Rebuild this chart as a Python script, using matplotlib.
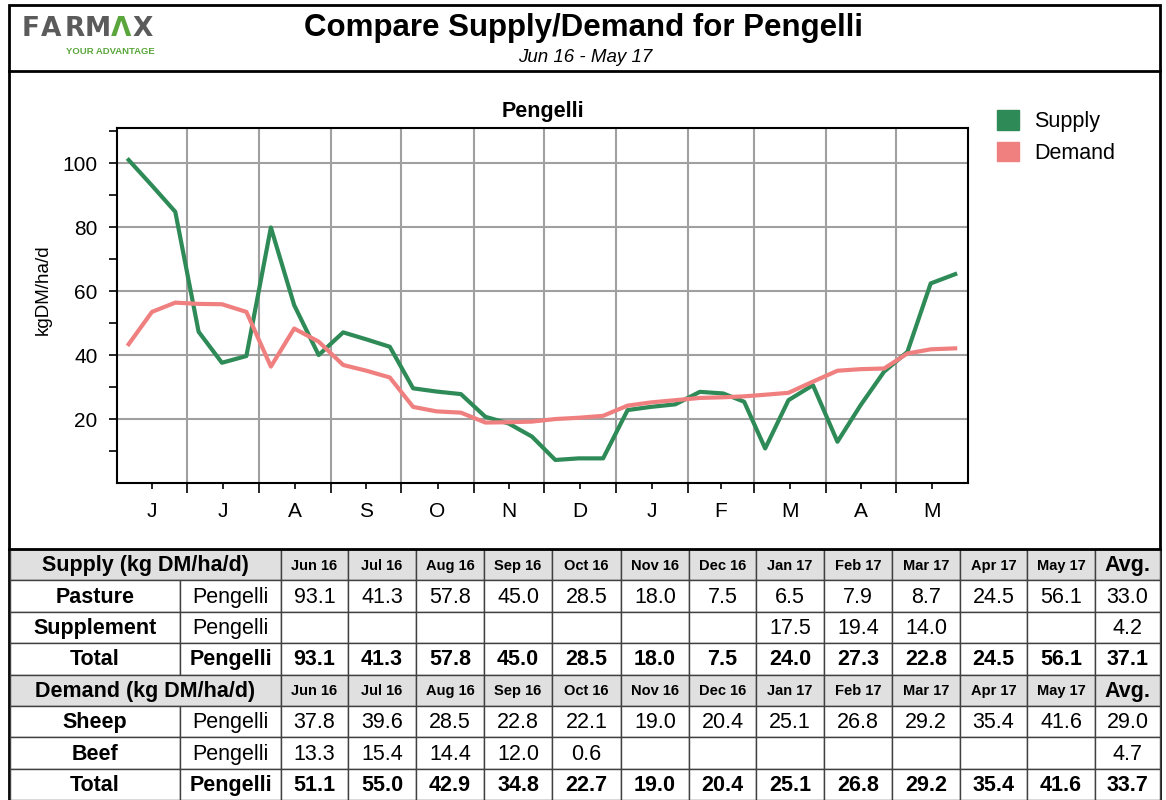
import numpy as np
import matplotlib
matplotlib.use('Agg')
import matplotlib.pyplot as plt
from matplotlib.patches import Rectangle, Patch
from matplotlib.ticker import FixedLocator, NullFormatter

plt.rcParams['font.family'] = ['Liberation Sans', 'DejaVu Sans']

farm = 'Pengelli'
months = ['Jun 16', 'Jul 16', 'Aug 16', 'Sep 16', 'Oct 16', 'Nov 16',
          'Dec 16', 'Jan 17', 'Feb 17', 'Mar 17', 'Apr 17', 'May 17']
month_letters = ['J', 'J', 'A', 'S', 'O', 'N', 'D', 'J', 'F', 'M', 'A', 'M']
month_days = [30, 31, 31, 30, 31, 30, 31, 31, 28, 31, 30, 31]

# ten-day period values (3 per month)
supply = [101.0, 93.0, 84.8, 47.3, 37.6, 39.7, 79.9, 55.6, 40.0, 47.1, 44.9, 42.6,
          29.6, 28.6, 27.8, 20.7, 18.6, 14.5, 7.2, 7.7, 7.7, 22.8, 23.8, 24.6,
          28.5, 28.0, 25.4, 10.8, 25.9, 30.6, 12.9, 24.4, 34.8, 41.0, 62.4, 65.3]
demand = [43.4, 53.5, 56.4, 56.0, 55.9, 53.5, 36.4, 48.3, 44.2, 36.9, 35.1, 33.0,
          23.8, 22.4, 22.0, 18.9, 19.0, 19.2, 20.0, 20.4, 21.0, 24.2, 25.2, 25.9,
          26.6, 26.8, 27.1, 27.6, 28.2, 31.7, 35.1, 35.6, 35.8, 40.5, 41.8, 42.1]

# monthly table values
pasture = [93.1, 41.3, 57.8, 45.0, 28.5, 18.0, 7.5, 6.5, 7.9, 8.7, 24.5, 56.1]
supplement = [None, None, None, None, None, None, None, 17.5, 19.4, 14.0, None, None]
supply_total = [93.1, 41.3, 57.8, 45.0, 28.5, 18.0, 7.5, 24.0, 27.3, 22.8, 24.5, 56.1]
sheep = [37.8, 39.6, 28.5, 22.8, 22.1, 19.0, 20.4, 25.1, 26.8, 29.2, 35.4, 41.6]
beef = [13.3, 15.4, 14.4, 12.0, 0.6, None, None, None, None, None, None, None]
demand_total = [51.1, 55.0, 42.9, 34.8, 22.7, 19.0, 20.4, 25.1, 26.8, 29.2, 35.4, 41.6]
supply_avg = [33.0, 4.2, 37.1]
demand_avg = [29.0, 4.7, 33.7]

green = '#2e8b57'
pink = '#f08080'
W, H = 1166, 800

# x positions: day of season, middle of each ten-day period
month_start = np.concatenate([[0], np.cumsum(month_days)[:-1]])
period_x = []
for s, n in zip(month_start, month_days):
    period_x += [s + 5, s + 15, s + (20 + n) / 2]

fig = plt.figure(figsize=(W / 100, H / 100), dpi=100)

# pixel-space background axes for frame, header and table
bg = fig.add_axes([0, 0, 1, 1])
bg.set_xlim(0, W)
bg.set_ylim(H, 0)
bg.axis('off')

bg.add_patch(Rectangle((9, 5), 1151, 794, fill=False, lw=2, ec='black'))
bg.plot([9, 1160], [71, 71], color='black', lw=2)

# logo
for ch, cx, col in zip(['F', 'A', 'R', 'M', '\u039b', 'X'],
                       [31, 51, 75, 98, 121, 143],
                       ['#5b5b5b'] * 4 + ['#5aa63c', '#5b5b5b']):
    bg.text(cx, 29, ch, fontsize=19, fontweight='bold', color=col,
            family='DejaVu Sans', ha='center', va='center')
bg.text(110, 52, 'YOUR ADVANTAGE', fontsize=6.8, fontweight='bold',
        color='#5aa63c', ha='center', va='center')

bg.text(584, 28, 'Compare Supply/Demand for ' + farm, fontsize=22.5,
        fontweight='bold', ha='center', va='center')
bg.text(585, 57, 'Jun 16 - May 17', fontsize=13.5, style='italic',
        ha='center', va='center')

# chart
ax = fig.add_axes([117 / W, 1 - 483 / H, 851 / W, 355 / H])
ax.plot(period_x, supply, color=green, lw=3, label='Supply', zorder=3)
ax.plot(period_x, demand, color=pink, lw=3, label='Demand', zorder=3)
ax.set_xlim(0, sum(month_days))
ax.set_ylim(0, 111)

ax.xaxis.set_major_locator(FixedLocator(month_start[1:]))
ax.xaxis.set_major_formatter(NullFormatter())
ax.xaxis.set_minor_locator(FixedLocator(month_start + np.array(month_days) / 2))
ax.set_xticklabels(month_letters, minor=True)
ax.tick_params(axis='x', which='major', length=7, width=1.2)
ax.tick_params(axis='x', which='minor', length=4, width=1.2, pad=10, labelsize=15)

ax.set_yticks([20, 40, 60, 80, 100])
ax.set_yticks([10, 30, 50, 70, 90, 110], minor=True)
ax.tick_params(axis='y', which='both', length=6, width=1.2, pad=8, labelsize=15)

ax.grid(True, which='major', color='#a0a0a0', lw=1.5)
ax.set_axisbelow(True)
for sp in ax.spines.values():
    sp.set_linewidth(1.5)

ax.set_title(farm, fontsize=15.5, fontweight='bold', pad=8)
ax.set_ylabel('kgDM/ha/d', fontsize=13.5)
ax.yaxis.set_label_coords((52 - 117) / 851, 0.545)

handles = [Patch(color=green), Patch(color=pink)]
fig.legend(handles, ['Supply', 'Demand'], loc='upper left',
           bbox_to_anchor=(978 / W, 1 - 91 / H), frameon=False, fontsize=15.5,
           handlelength=1.0, handleheight=1.0, handletextpad=0.7,
           labelspacing=0.45)

# table
col_edges = [10, 180, 281, 348, 416, 484, 552, 621, 689, 756, 824, 892, 960,
             1027, 1095, 1160]
row_h = 31.4
table_top = 549
fs = 15.5


def cell(c0, c1, r, text, gray=False, **kw):
    x0, x1 = col_edges[c0], col_edges[c1]
    y0 = table_top + r * row_h
    bg.add_patch(Rectangle((x0, y0), x1 - x0, row_h,
                           fc='#e0e0e0' if gray else 'white',
                           ec='#404040', lw=1))
    bg.text((x0 + x1) / 2, y0 + row_h / 2 + 1, text, ha='center', va='center', **kw)


def fmt(v):
    return '' if v is None else f'{v:.1f}'


def section(r0, title, rows, avgs):
    cell(0, 2, r0, title, gray=True, fontsize=fs, fontweight='bold')
    for i, m in enumerate(months):
        cell(i + 2, i + 3, r0, m, gray=True, fontsize=10.5, fontweight='bold')
    cell(14, 15, r0, 'Avg.', gray=True, fontsize=fs, fontweight='bold')
    for k, (label, vals) in enumerate(rows):
        r = r0 + 1 + k
        wt = 'bold' if label == 'Total' else 'normal'
        cell(0, 1, r, label, fontsize=fs, fontweight='bold')
        cell(1, 2, r, farm, fontsize=fs, fontweight=wt)
        for i, v in enumerate(vals):
            cell(i + 2, i + 3, r, fmt(v), fontsize=fs, fontweight=wt)
        cell(14, 15, r, fmt(avgs[k]), fontsize=fs, fontweight=wt)


section(0, 'Supply (kg DM/ha/d)',
        [('Pasture', pasture), ('Supplement', supplement), ('Total', supply_total)],
        supply_avg)
section(4, 'Demand (kg DM/ha/d)',
        [('Sheep', sheep), ('Beef', beef), ('Total', demand_total)],
        demand_avg)
bg.plot([9, 1160], [table_top, table_top], color='black', lw=2)

fig.savefig('out.png', dpi=100)
